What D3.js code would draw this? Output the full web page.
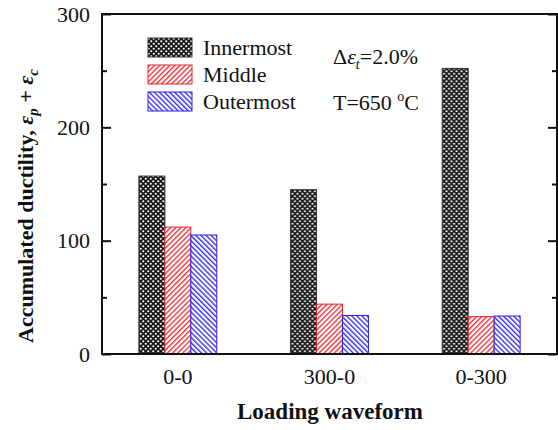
<!DOCTYPE html>
<html>
<head>
<meta charset="utf-8">
<script src="https://cdn.jsdelivr.net/npm/d3@7"></script>
<style>
  body { margin: 0; background: #fff; }
  svg text { font-family: "Liberation Serif", "Times New Roman", serif; }
</style>
</head>
<body>
<div id="chart"></div>
<script>
// values
const categories = ['0-0', '300-0', '0-300'];
const seriesNames = ['Innermost', 'Middle', 'Outermost'];
const innermost = [157, 145, 252];
const middle = [112, 44, 33];
const outermost = [105, 34, 33.5];
const majorTicks = [0, 100, 200, 300];
const minorTicks = [50, 150, 250];

const W = 558, H = 430;
const margin = { top: 14, right: 1, bottom: 76, left: 102 };
const serif = '"Liberation Serif", "Times New Roman", serif';

const svg = d3.select('#chart')
  .append('svg')
  .attr('width', W)
  .attr('height', H);

// hatch patterns
const defs = svg.append('defs');
const cross = defs.append('pattern')
  .attr('id', 'pat-inner')
  .attr('patternUnits', 'userSpaceOnUse')
  .attr('width', 5).attr('height', 5);
cross.append('rect').attr('width', 5).attr('height', 5).attr('fill', '#1a1a1a');
cross.append('circle').attr('cx', 1.25).attr('cy', 1.25).attr('r', 1.05).attr('fill', '#fff');
cross.append('circle').attr('cx', 3.75).attr('cy', 3.75).attr('r', 1.05).attr('fill', '#fff');

function hatch(id, color, angle) {
  const s = 3.6;
  const p = defs.append('pattern')
    .attr('id', id)
    .attr('patternUnits', 'userSpaceOnUse')
    .attr('width', s).attr('height', s)
    .attr('patternTransform', `rotate(${angle})`);
  p.append('rect').attr('width', s).attr('height', s).attr('fill', '#fff');
  p.append('line')
    .attr('x1', 0.7).attr('y1', 0).attr('x2', 0.7).attr('y2', s)
    .attr('stroke', color).attr('stroke-width', 1.3);
}
hatch('pat-middle', '#e8262b', 45);
hatch('pat-outer', '#2a1ef0', -45);

const fills = { Innermost: 'url(#pat-inner)', Middle: 'url(#pat-middle)', Outermost: 'url(#pat-outer)' };
const strokes = { Innermost: '#333', Middle: '#e8262b', Outermost: '#2a1ef0' };

const data = categories.map((c, i) => ({
  cat: c,
  vals: [
    { key: 'Innermost', v: innermost[i] },
    { key: 'Middle', v: middle[i] },
    { key: 'Outermost', v: outermost[i] }
  ]
}));

const x0 = d3.scaleBand()
  .domain(categories)
  .range([margin.left, W - margin.right])
  .padding(0);

const x1 = d3.scaleBand()
  .domain(seriesNames)
  .range([0, x0.bandwidth()])
  .paddingInner(0)
  .paddingOuter(1.42);

const y = d3.scaleLinear()
  .domain([0, 300])
  .range([H - margin.bottom, margin.top]);

// bars
svg.append('g')
  .selectAll('g')
  .data(data)
  .enter()
  .append('g')
  .attr('transform', d => `translate(${x0(d.cat)},0)`)
  .selectAll('rect')
  .data(d => d.vals)
  .enter()
  .append('rect')
  .attr('x', d => x1(d.key))
  .attr('y', d => y(d.v))
  .attr('width', x1.bandwidth())
  .attr('height', d => y(0) - y(d.v))
  .attr('fill', d => fills[d.key])
  .attr('stroke', d => strokes[d.key])
  .attr('stroke-width', 1);

// frame
svg.append('rect')
  .attr('x', margin.left)
  .attr('y', margin.top)
  .attr('width', W - margin.right - margin.left)
  .attr('height', y(0) - margin.top)
  .attr('fill', 'none')
  .attr('stroke', '#111')
  .attr('stroke-width', 2);

// left axis, ticks inside
const yAxisL = d3.axisLeft(y).tickValues(majorTicks).tickSize(-9).tickPadding(12).tickFormat(d3.format('d'));
const gL = svg.append('g').attr('transform', `translate(${margin.left},0)`).call(yAxisL);
gL.attr('font-family', serif);
gL.select('.domain').remove();
gL.selectAll('line').attr('stroke', '#111').attr('stroke-width', 2);
gL.selectAll('text').attr('font-size', 22).attr('fill', '#111');
svg.append('g').attr('transform', `translate(${margin.left},0)`)
  .call(d3.axisLeft(y).tickValues(minorTicks).tickSize(-5).tickFormat(''))
  .call(g => g.select('.domain').remove())
  .selectAll('line').attr('stroke', '#111').attr('stroke-width', 2);

// right axis, ticks inside, no labels
const xr = W - margin.right;
svg.append('g').attr('transform', `translate(${xr},0)`)
  .call(d3.axisRight(y).tickValues(majorTicks).tickSize(-9).tickFormat(''))
  .call(g => g.select('.domain').remove())
  .selectAll('line').attr('stroke', '#111').attr('stroke-width', 2);
svg.append('g').attr('transform', `translate(${xr},0)`)
  .call(d3.axisRight(y).tickValues(minorTicks).tickSize(-5).tickFormat(''))
  .call(g => g.select('.domain').remove())
  .selectAll('line').attr('stroke', '#111').attr('stroke-width', 2);

// x category labels
const gx = svg.append('g').attr('transform', `translate(0,${y(0)})`)
  .call(d3.axisBottom(x0).tickSize(0).tickPadding(14));
gx.attr('font-family', serif);
gx.select('.domain').remove();
gx.selectAll('text').attr('font-size', 22).attr('fill', '#111');

// axis titles
svg.append('text')
  .attr('x', 330)
  .attr('y', 419)
  .attr('text-anchor', 'middle')
  .attr('font-family', serif)
  .attr('font-size', 23)
  .attr('font-weight', 'bold')
  .attr('fill', '#111')
  .text('Loading waveform');

const yt = svg.append('text')
  .attr('transform', 'translate(33,206) rotate(-90)')
  .attr('text-anchor', 'middle')
  .attr('font-family', serif)
  .attr('font-size', 22)
  .attr('font-weight', 'bold')
  .attr('fill', '#111');
yt.append('tspan').text('Accumulated ductility, ');
yt.append('tspan').attr('font-style', 'italic').text('ε');
yt.append('tspan').attr('font-style', 'italic').attr('font-size', 15).attr('dy', 5).text('p');
yt.append('tspan').attr('dy', -5).text(' + ');
yt.append('tspan').attr('font-style', 'italic').text('ε');
yt.append('tspan').attr('font-style', 'italic').attr('font-size', 15).attr('dy', 5).text('c');

// legend
const legend = svg.append('g').attr('font-family', serif);
seriesNames.forEach((name, i) => {
  const ly = 38 + i * 27;
  legend.append('rect')
    .attr('x', 148).attr('y', ly)
    .attr('width', 44).attr('height', 19)
    .attr('fill', fills[name])
    .attr('stroke', strokes[name]).attr('stroke-width', 1);
  legend.append('text')
    .attr('x', 203).attr('y', ly + 17)
    .attr('font-family', serif)
    .attr('font-size', 22).attr('fill', '#111')
    .text(name);
});

// annotations
const a1 = svg.append('text').attr('x', 333).attr('y', 64)
  .attr('font-family', serif).attr('font-size', 22).attr('fill', '#111');
a1.append('tspan').text('Δ');
a1.append('tspan').attr('font-style', 'italic').text('ε');
a1.append('tspan').attr('font-style', 'italic').attr('font-size', 14).attr('dy', 5).text('t');
a1.append('tspan').attr('dy', -5).text('=2.0%');

const a2 = svg.append('text').attr('x', 333).attr('y', 110)
  .attr('font-family', serif).attr('font-size', 22).attr('fill', '#111');
a2.append('tspan').text('T=650 ');
a2.append('tspan').attr('font-size', 14).attr('dy', -9).text('o');
a2.append('tspan').attr('dy', 9).text('C');
</script>
</body>
</html>
